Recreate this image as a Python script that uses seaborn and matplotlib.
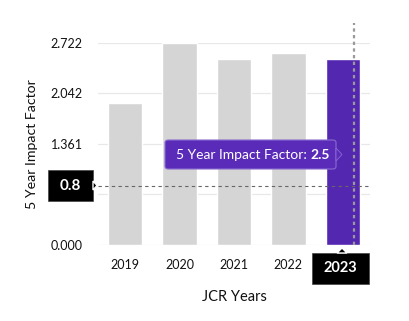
import matplotlib
matplotlib.use("Agg")
import matplotlib.pyplot as plt
import seaborn as sns
import pandas as pd
from matplotlib.patches import FancyBboxPatch, Polygon

years = ["2019", "2020", "2021", "2022", "2023"]
values = [1.91, 2.72, 2.51, 2.59, 2.50]
yticks = [0.000, 0.681, 1.361, 2.042, 2.722]
ytick_labels = ["0.000", "", "1.361", "2.042", "2.722"]
ref_value = 0.8
highlight_year = "2023"
tooltip_label = "5 Year Impact Factor: "
tooltip_value = "2.5"

sns.set_theme(style="white")
plt.rcParams["font.family"] = ["Lato", "DejaVu Sans"]

W, H = 410, 321
fig = plt.figure(figsize=(W / 100, H / 100), dpi=100)
ax = fig.add_axes([98 / W, (H - 245) / H, (370 - 98) / W, (245 - 43) / H])

df = pd.DataFrame({"year": years, "value": values})
grey = "#d4d5d4"
purple = "#5427b0"
palette = {y: (purple if y == highlight_year else grey) for y in years}
sns.barplot(data=df, x="year", y="value", hue="year", palette=palette,
            width=0.63, legend=False, ax=ax, zorder=2, saturation=1)

ax.set_ylim(0, 2.722)
ax.set_xlim(-0.5, 4.5)
ax.set_yticks(yticks)
ax.set_yticklabels(ytick_labels)
ax.set_xticks(range(len(years)))
ax.set_xticklabels(["" if y == highlight_year else y for y in years])
ax.grid(axis="y", color="#e8e8e8", linewidth=0.9, zorder=0)
ax.set_axisbelow(True)
for s in ax.spines.values():
    s.set_visible(False)
ax.tick_params(axis="both", length=0, labelsize=9, colors="#111111")
ax.tick_params(axis="y", pad=11)
ax.tick_params(axis="x", pad=10)
ax.set_xlabel("JCR Years", fontsize=10.5, color="#111111")
ax.set_ylabel("5 Year Impact Factor", fontsize=10.2, color="#111111")
ax.yaxis.set_label_coords(-0.243, 0.5)
ax.xaxis.set_label_coords(0.5, -0.257)
ax.xaxis.label.set_va("center")
ax.yaxis.label.set_va("center")

# reference dashed line
ax.axhline(ref_value, color="#666666", linewidth=0.8, linestyle=(0, (3, 3)), zorder=4)
# hover crosshair
ax.axvline(4.2, ymin=0, ymax=1.1, color="#9a9a9a", linewidth=1.6,
           linestyle=(0, (1.5, 1.5)), clip_on=False, zorder=4)

def fx(x):
    return x / W

def fy(y):
    return 1 - y / H

# 0.8 label box
fig.patches.append(FancyBboxPatch((fx(48), fy(201)), fx(93) - fx(48), fy(170) - fy(201),
                                  boxstyle="square,pad=0", fc="black", ec="#444444",
                                  lw=0.5, transform=fig.transFigure, zorder=5))
fig.patches.append(Polygon([(fx(93), fy(181)), (fx(97), fy(185.5)), (fx(93), fy(190))],
                           closed=True, fc="black", transform=fig.transFigure, zorder=5))
fig.text(fx(70.5), fy(185.5), f"{ref_value}", color="white", fontsize=11,
         fontweight="bold", ha="center", va="center", zorder=6)

# 2023 label box
fig.patches.append(FancyBboxPatch((fx(312), fy(284)), fx(369) - fx(312), fy(253) - fy(284),
                                  boxstyle="square,pad=0", fc="black", ec="#444444",
                                  lw=0.5, transform=fig.transFigure, zorder=5))
fig.patches.append(Polygon([(fx(337), fy(253)), (fx(342), fy(248)), (fx(347), fy(253))],
                           closed=True, fc="black", transform=fig.transFigure, zorder=5))
fig.text(fx(340.5), fy(268.5), highlight_year, color="white", fontsize=10.5,
         fontweight="bold", ha="center", va="center", zorder=6)

# tooltip
fig.patches.append(FancyBboxPatch((fx(165), fy(169)), fx(336) - fx(165), fy(140) - fy(169),
                                  boxstyle="round,pad=0,rounding_size=0.008",
                                  fc="#5a2bb8", ec="#8a6ad0", lw=0.8,
                                  transform=fig.transFigure, zorder=5))
fig.patches.append(Polygon([(fx(336), fy(148)), (fx(342), fy(154.5)), (fx(336), fy(161))],
                           closed=True, fc="#5a2bb8", ec="#8a6ad0", lw=0.6,
                           transform=fig.transFigure, zorder=5))
t1 = fig.text(fx(176), fy(155), tooltip_label, color="white", fontsize=10,
              ha="left", va="center", zorder=7)
fig.canvas.draw()
bb = t1.get_window_extent()
x_end = bb.x1 / fig.dpi / fig.get_figwidth()
fig.text(x_end, fy(155), tooltip_value, color="white", fontsize=10,
         fontweight="bold", ha="left", va="center", zorder=7)

fig.savefig("out.png", dpi=100)
